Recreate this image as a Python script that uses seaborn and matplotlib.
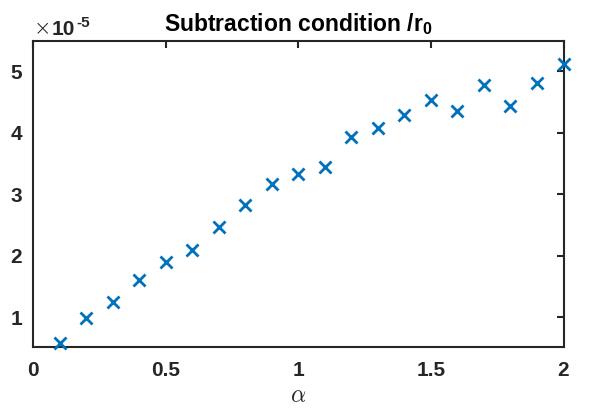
import numpy as np
import pandas as pd
import matplotlib
matplotlib.use("Agg")
import matplotlib.pyplot as plt
import seaborn as sns

alpha = [0.1, 0.2, 0.3, 0.4, 0.5, 0.6, 0.7, 0.8, 0.9, 1.0,
         1.1, 1.2, 1.3, 1.4, 1.5, 1.6, 1.7, 1.8, 1.9, 2.0]
values_e5 = [0.57, 0.98, 1.25, 1.61, 1.89, 2.09, 2.46, 2.82, 3.16, 3.33,
             3.44, 3.93, 4.08, 4.28, 4.53, 4.35, 4.78, 4.43, 4.80, 5.12]
xticks = [0, 0.5, 1, 1.5, 2]
xtick_labels = ["0", "0.5", "1", "1.5", "2"]
yticks = [1, 2, 3, 4, 5]
ytick_labels = ["1", "2", "3", "4", "5"]

sns.set_style("white")
plt.rcParams['font.family'] = ['Liberation Sans', 'DejaVu Sans']
plt.rcParams['mathtext.fontset'] = 'custom'
plt.rcParams['mathtext.rm'] = 'Liberation Sans:bold'
plt.rcParams['mathtext.bf'] = 'Liberation Sans:bold'
plt.rcParams['mathtext.it'] = 'Liberation Sans:bold'
plt.rcParams['mathtext.default'] = 'rm'

df = pd.DataFrame({"alpha": alpha, "val": values_e5})

fig = plt.figure(figsize=(5.89, 4.13), dpi=100)
ax = fig.add_axes([33/589, 1 - 346.7/413, (563.5-33)/589, (346.7-41)/413])
sns.scatterplot(data=df, x="alpha", y="val", marker="x", s=75, color="#0072BD",
                linewidth=2.0, ax=ax, zorder=3, clip_on=False)
ax.set_xlim(0, 2)
ax.set_ylim(0.517, 5.49)
ax.set_xticks(xticks)
ax.set_xticklabels(xtick_labels, fontsize=15, fontweight="bold", color="#262626")
ax.set_yticks(yticks)
ax.set_yticklabels(ytick_labels, fontsize=15, fontweight="bold", color="#262626")
ax.tick_params(direction="in", length=5, width=1.5, top=True, right=True,
               color="#262626")
ax.tick_params(axis="x", pad=10)
ax.tick_params(axis="y", pad=8)
for sp in ax.spines.values():
    sp.set_visible(True)
    sp.set_color("#262626")
    sp.set_linewidth(1.5)
ax.set_xlabel(r"$\alpha$", fontsize=17, color="#262626", labelpad=4,
              math_fontfamily="cm")
ax.set_ylabel("")
ax.set_title(r"Subtraction condition /r$_{0}$", fontsize=16.5, fontweight="bold",
             color="black", pad=7)

# offset text "x10^-5"
base = fig.transFigure
def px(x, y):
    return x / 589, 1 - y / 413
ax.text(*px(34, 35), "\u00d7", transform=base, fontsize=15, color="#262626",
        ha="left", va="baseline", family="DejaVu Sans", fontweight="light")
ax.text(*px(52, 35), "10", transform=base, fontsize=15, fontweight="bold",
        color="#262626", ha="left", va="baseline")
ax.text(*px(76, 27), "-5", transform=base, fontsize=11, fontweight="bold",
        color="#262626", ha="left", va="baseline")
ax.grid(False)
fig.savefig("out.png", dpi=100)
